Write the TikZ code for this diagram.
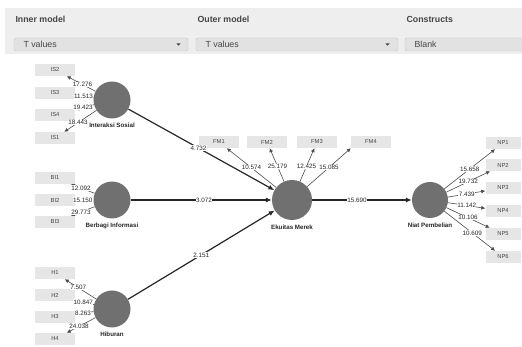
\documentclass[tikz,border=0pt]{standalone}
\usepackage{fontspec}
\setmainfont{Liberation Sans}
\usetikzlibrary{arrows.meta}
\definecolor{circ}{RGB}{112,112,112}
\definecolor{boxfill}{RGB}{230,230,230}
\definecolor{band}{RGB}{238,238,238}
\definecolor{dd}{RGB}{226,226,226}
\definecolor{ddline}{RGB}{196,196,196}
\definecolor{txt}{RGB}{70,70,70}
\begin{document}
\begin{tikzpicture}[x=1pt,y=-1pt,
  construct/.style={circle,fill=circ,minimum size=37pt,inner sep=0pt},
  indicator/.style={rectangle,fill=boxfill,minimum width=40pt,minimum height=12pt,inner sep=0pt,font=\fontsize{5.8}{6}\selectfont,text=txt},
  clabel/.style={font=\bfseries\fontsize{6.2}{7}\selectfont,text=black!85},
  outerarrow/.style={draw=black!70,line width=0.6pt,-{Latex[length=4pt,width=4pt]}},
  innerarrow/.style={draw=black!85,line width=1.2pt,-{Latex[length=6pt,width=5pt]}},
  wlabel/.style={fill=white,inner sep=0.4pt,font=\fontsize{6.3}{7}\selectfont,text=black!85},
  hdr/.style={anchor=west,font=\bfseries\fontsize{8.8}{10}\selectfont,text=txt},
  ddtext/.style={anchor=west,font=\fontsize{8.8}{10}\selectfont,text=txt},
  ddbox/.style={fill=dd,draw=ddline,line width=0.4pt,rounded corners=1.5pt},
  caret/.style={fill=txt}
]
\useasboundingbox (0,0) rectangle (522,347);
\fill[white] (0,0) rectangle (522,347);
% header
\fill[band] (5,8) rectangle (522,54);
\node[hdr] (h1) at (12,19) {Inner model};
\node[hdr] (h2) at (194,19) {Outer model};
\node[hdr] (h3) at (403,19) {Constructs};
\path[ddbox] (14,38) rectangle (188,51);
\path[ddbox] (196,38) rectangle (398,51);
\path[ddbox] (405,38) rectangle (524,51);
\node[ddtext] (d1) at (20,44.5) {T values};
\node[ddtext] (d2) at (202,44.5) {T values};
\node[ddtext] (d3) at (411,44.5) {Blank};
\fill[caret] (176.5,43.5) -- (180.5,43.5) -- (178.5,45.7) -- cycle;
\fill[caret] (385.5,43.5) -- (389.5,43.5) -- (387.5,45.7) -- cycle;

% constructs
\node[construct,label={[clabel,label distance=1pt]below:Interaksi Sosial}] (IS) at (112,100) {};
\node[construct,label={[clabel,label distance=1pt]below:Berbagi Informasi}] (BI) at (112,200) {};
\node[construct,label={[clabel,label distance=1pt]below:Hiburan}] (HI) at (112,309) {};
\node[construct,minimum size=40pt,label={[clabel,label distance=1pt]below:Ekuitas Merek}] (EM) at (292,200) {};
\node[construct,minimum size=36pt,label={[clabel,label distance=1.5pt]below:Niat Pembelian}] (NP) at (430,200) {};

% indicators
\node[indicator] (IS2) at (55,70) {IS2};
\node[indicator] (IS3) at (55,93) {IS3};
\node[indicator] (IS4) at (55,115) {IS4};
\node[indicator] (IS1) at (55,138) {IS1};
\node[indicator] (BI1) at (55,178) {BI1};
\node[indicator] (BI2) at (55,200) {BI2};
\node[indicator] (BI3) at (55,222) {BI3};
\node[indicator] (H1) at (55,273) {H1};
\node[indicator] (H2) at (55,295) {H2};
\node[indicator] (H3) at (55,317) {H3};
\node[indicator] (H4) at (55,339) {H4};
\node[indicator] (FM1) at (219,142) {FM1};
\node[indicator] (FM2) at (267,142) {FM2};
\node[indicator] (FM3) at (317,142) {FM3};
\node[indicator] (FM4) at (371,142) {FM4};
\node[indicator,minimum width=35pt] (NP1) at (503,143) {NP1};
\node[indicator,minimum width=35pt] (NP2) at (503,165) {NP2};
\node[indicator,minimum width=35pt] (NP3) at (503,188) {NP3};
\node[indicator,minimum width=35pt] (NP4) at (503,211) {NP4};
\node[indicator,minimum width=35pt] (NP5) at (503,234) {NP5};
\node[indicator,minimum width=35pt] (NP6) at (503,257) {NP6};

% outer loadings
\draw[outerarrow] (IS) -- node[wlabel,pos=0.45] {17.276} (IS2);
\draw[outerarrow] (IS) -- node[wlabel,pos=0.55] {11.513} (IS3);
\draw[outerarrow] (IS) -- node[wlabel,pos=0.58] {19.423} (IS4);
\draw[outerarrow] (IS) -- node[wlabel,pos=0.57] {18.443} (IS1);
\draw[outerarrow] (BI) -- node[wlabel,pos=0.58] {12.092} (BI1);
\draw[outerarrow] (BI) -- node[wlabel,pos=0.58] {15.150} (BI2);
\draw[outerarrow] (BI) -- node[wlabel,pos=0.58] {29.773} (BI3);
\draw[outerarrow] (HI) -- node[wlabel,pos=0.57] {7.507} (H1);
\draw[outerarrow] (HI) -- node[wlabel,pos=0.57] {10.847} (H2);
\draw[outerarrow] (HI) -- node[wlabel,pos=0.57] {8.263} (H3);
\draw[outerarrow] (HI) -- node[wlabel,pos=0.57] {24.038} (H4);
\draw[outerarrow] (EM) -- node[wlabel,pos=0.5] {10.574} (FM1);
\draw[outerarrow] (EM) -- node[wlabel,pos=0.45] {25.179} (FM2);
\draw[outerarrow] (EM) -- node[wlabel,pos=0.45] {12.425} (FM3);
\draw[outerarrow] (EM) -- node[wlabel,pos=0.5] {15.085} (FM4.south west);
\draw[outerarrow] (NP) -- node[wlabel,pos=0.5] {15.658} (NP1);
\draw[outerarrow] (NP) -- node[wlabel,pos=0.5] {19.732} (NP2);
\draw[outerarrow] (NP) -- node[wlabel,pos=0.5] {7.439} (NP3);
\draw[outerarrow] (NP) -- node[wlabel,pos=0.5] {11.142} (NP4);
\draw[outerarrow] (NP) -- node[wlabel,pos=0.5] {10.106} (NP5);
\draw[outerarrow] (NP) -- node[wlabel,pos=0.55] {10.609} (NP6);

% inner paths
\draw[innerarrow] (IS) -- node[wlabel,pos=0.48] {4.732} (EM);
\draw[innerarrow] (BI) -- node[wlabel,pos=0.52] {3.072} (EM);
\draw[innerarrow] (HI) -- node[wlabel,pos=0.5] {2.151} (EM);
\draw[innerarrow] (EM) -- node[wlabel,pos=0.45] {15.690} (NP);
\end{tikzpicture}
\end{document}
